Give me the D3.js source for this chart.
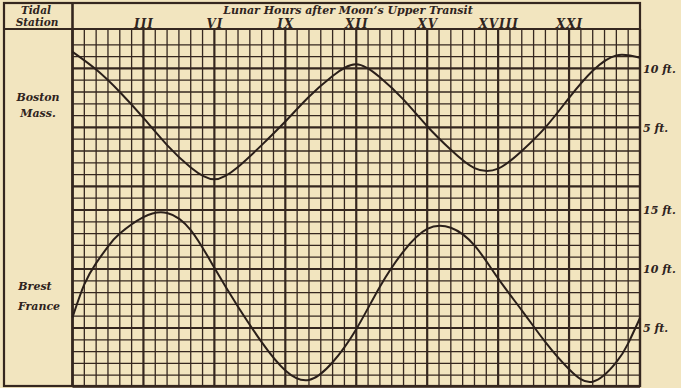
<!DOCTYPE html>
<html>
<head>
<meta charset="utf-8">
<script src="https://cdn.jsdelivr.net/npm/d3@7"></script>
<style>
  body { margin: 0; background: #f2e5bf; }
  svg text { font-family: "DejaVu Serif", serif; font-weight: bold; font-style: italic; fill: #2e2320; }
</style>
</head>
<body>
<div id="chart"></div>
<script>
// lunar hours after moon's upper transit, tide height in feet
var bostonHours = [0, 1, 2, 3, 4, 5, 6, 7, 8, 9, 10, 11, 12,
                   13, 14, 15, 16, 17, 18, 19, 20, 21, 22, 23, 24];
var bostonFt = [11.4, 9.9, 8.0, 5.8, 3.5, 1.6, 0.6, 1.65, 3.5, 5.5, 7.6, 9.35, 10.35,
                9.25, 7.35, 5.1, 3.1, 1.55, 1.5, 3.0, 5.0, 7.5, 9.8, 11.1, 10.9];
var brestHours = [0, 0.5, 1, 1.5, 2, 3, 4, 5, 6, 7, 8, 9, 10, 11, 12,
                  13, 14, 15, 16, 17, 18, 19, 20, 21, 22, 23, 23.5, 24];
var brestFt = [5.9, 8.7, 10.5, 11.9, 13.0, 14.4, 14.75, 13.3, 10.1, 6.8, 3.8, 1.4, 0.6, 2.1, 4.9,
               8.5, 11.5, 13.4, 13.5, 12.0, 9.2, 6.5, 3.8, 1.5, 0.45, 2.1, 3.7, 5.85];

var hourTicks = [3, 6, 9, 12, 15, 18, 21];
var hourLabels = ["III", "VI", "IX", "XII", "XV", "XVIII", "XXI"];
var bostonTicks = [5, 10];
var brestTicks = [5, 10, 15];

var W = 681, H = 388;
var ink = "#35271f";

var svg = d3.select("#chart")
  .append("svg")
    .attr("width", W)
    .attr("height", H);

svg.append("rect")
  .attr("width", W).attr("height", H)
  .attr("fill", "#f2e5bf");

// x: hours across the grid, half hour cells
var x = d3.scaleLinear()
  .domain([0, 24])
  .range([72.5, 640]);

// one row per foot, counted up from the bottom of the sheet
var row = d3.scaleLinear()
  .domain([0, 30])
  .range([387, 33]);

var yBoston = d3.scaleLinear().domain([0, 10]).range([row(17), row(27)]);
var yBrest = d3.scaleLinear().domain([0, 15]).range([row(0), row(15)]);

var heavyRows = [5, 10, 15, 17, 22, 27];
var grid = svg.append("g");

// horizontal rules
grid.selectAll("line.h")
  .data(d3.range(0, 30))
  .enter()
  .append("line")
    .attr("x1", x(0)).attr("x2", x(24))
    .attr("y1", function(d) { return row(d); })
    .attr("y2", function(d) { return row(d); })
    .attr("stroke", ink)
    .attr("stroke-width", function(d) { return heavyRows.indexOf(d) >= 0 ? 2.2 : 1.3; });

// vertical rules
grid.selectAll("line.v")
  .data(d3.range(0, 24.01, 0.5))
  .enter()
  .append("line")
    .attr("x1", function(d) { return x(d); })
    .attr("x2", function(d) { return x(d); })
    .attr("y1", 29).attr("y2", 387)
    .attr("stroke", ink)
    .attr("stroke-width", function(d) { return d % 3 === 0 ? 2.2 : 1.3; });

// frame
var frame = svg.append("g").attr("stroke", ink).attr("fill", "none");
frame.append("rect")
  .attr("x", 4).attr("y", 3)
  .attr("width", x(24) - 4).attr("height", 383)
  .attr("stroke-width", 2.2);
frame.append("line")
  .attr("x1", 4).attr("x2", x(24)).attr("y1", 29).attr("y2", 29)
  .attr("stroke-width", 2.2);
frame.append("line")
  .attr("x1", x(0)).attr("x2", x(0)).attr("y1", 3).attr("y2", 386)
  .attr("stroke-width", 2.6);

// tide curves
var bostonLine = d3.line()
  .x(function(d, i) { return x(bostonHours[i]); })
  .y(function(d) { return yBoston(d); })
  .curve(d3.curveNatural);
var brestLine = d3.line()
  .x(function(d, i) { return x(brestHours[i]); })
  .y(function(d) { return yBrest(d); })
  .curve(d3.curveNatural);

svg.append("path")
  .datum(bostonFt)
  .attr("d", bostonLine)
  .attr("fill", "none")
  .attr("stroke", "#2a1f1a")
  .attr("stroke-width", 2);
svg.append("path")
  .datum(brestFt)
  .attr("d", brestLine)
  .attr("fill", "none")
  .attr("stroke", "#2a1f1a")
  .attr("stroke-width", 2);

// hour numerals along the top
var topAxis = svg.append("g")
  .attr("transform", "translate(0,27.5)")
  .call(d3.axisTop(x)
    .tickValues(hourTicks)
    .tickSize(0)
    .tickPadding(0)
    .tickFormat(function(d, i) { return hourLabels[i]; }));
topAxis.select(".domain").remove();
topAxis.selectAll("text")
  .attr("font-size", 12)
  .attr("letter-spacing", 1)
  .attr("dy", 0);

// feet labels on the right
function feetAxis(scale, ticks) {
  var g = svg.append("g")
    .attr("transform", "translate(" + (x(24) + 3) + ",0)")
    .call(d3.axisRight(scale)
      .tickValues(ticks)
      .tickSize(0)
      .tickPadding(0)
      .tickFormat(function(d) { return d + " ft."; }));
  g.select(".domain").remove();
  g.selectAll("text").attr("font-size", 11).attr("dy", "0.35em");
}
feetAxis(yBoston, bostonTicks);
feetAxis(yBrest, brestTicks);

// header and station names
var labels = [
  {t: "Lunar Hours after Moon\u2019s Upper Transit", x: 348, y: 14, s: 11},
  {t: "Tidal", x: 36, y: 14, s: 10.5},
  {t: "Station", x: 37, y: 26, s: 10.5},
  {t: "Boston", x: 38, y: 101, s: 11},
  {t: "Mass.", x: 38, y: 117, s: 11},
  {t: "Brest", x: 35, y: 290, s: 11},
  {t: "France", x: 39, y: 310, s: 11}
];
svg.selectAll("text.lab")
  .data(labels)
  .enter()
  .append("text")
    .attr("class", "lab")
    .attr("x", function(d) { return d.x; })
    .attr("y", function(d) { return d.y; })
    .attr("text-anchor", "middle")
    .attr("font-size", function(d) { return d.s; })
    .text(function(d) { return d.t; });
</script>
</body>
</html>
